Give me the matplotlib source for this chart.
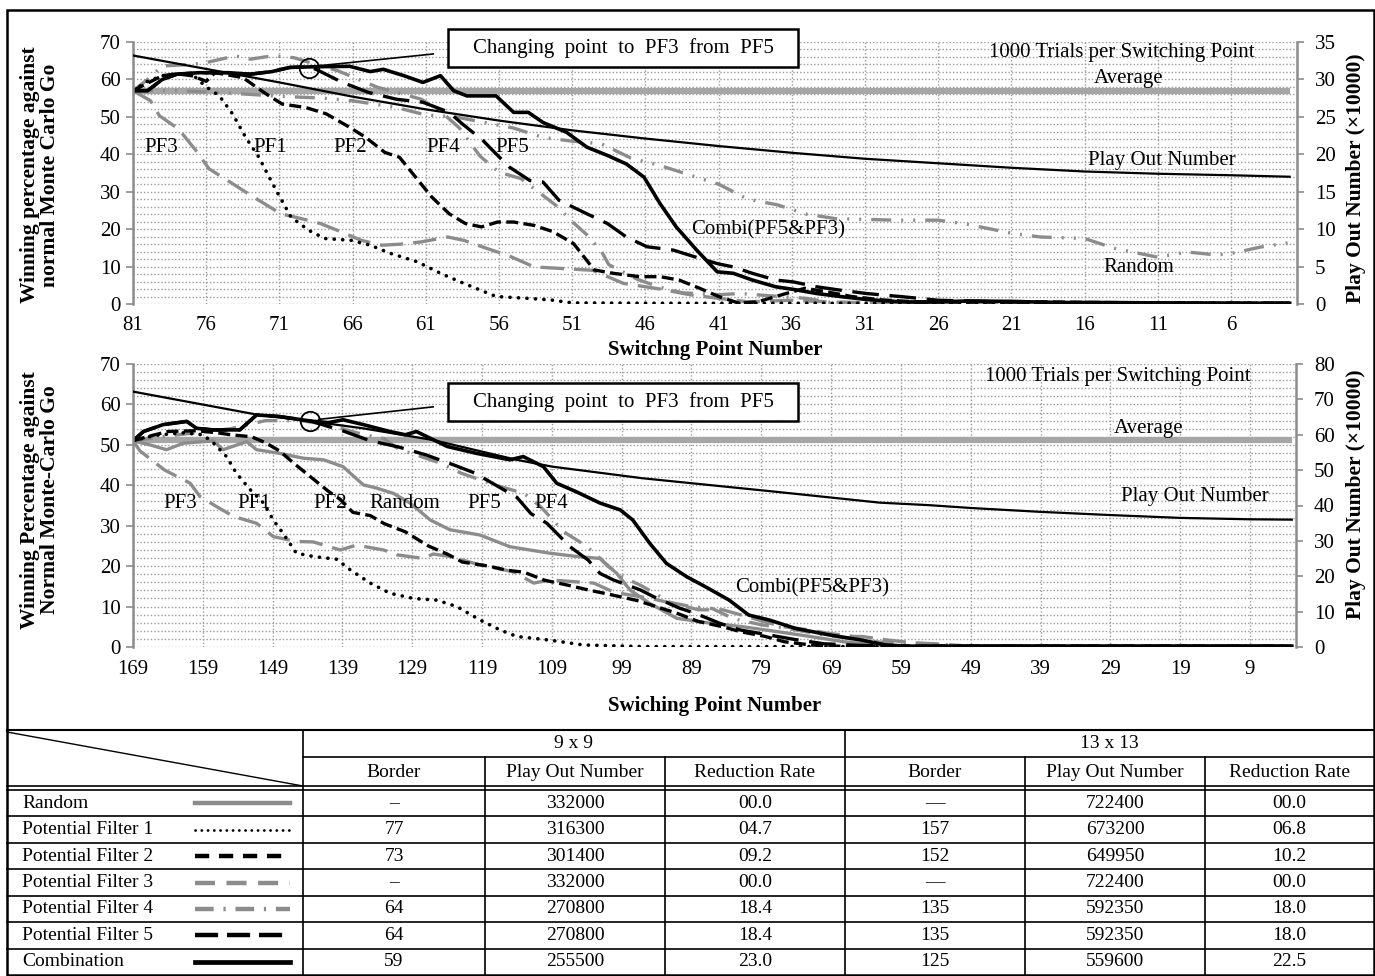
import matplotlib
matplotlib.use('Agg')
import matplotlib.pyplot as plt
from matplotlib.lines import Line2D
from matplotlib.patches import Rectangle
from matplotlib.ticker import MultipleLocator

plt.rcParams['font.family'] = ['Liberation Serif', 'DejaVu Serif']

W, H = 1375, 976
fig = plt.figure(figsize=(W / 100, H / 100), dpi=100)


def fx(x):
    return x / W


def fy(y):
    return 1 - y / H


# ------------------------------------------------------------------ data 9x9
top_avg_x = [81, 2]
top_avg_y = [57.0, 57.0]

top_playout_x = [81, 76, 71, 66, 61, 56, 51, 46, 41, 36, 31, 26, 21, 16, 11, 6, 2]
top_playout_y = [33.2, 31.4, 29.6, 27.7, 26.0, 24.5, 23.2, 22.1, 21.1, 20.2, 19.4,
                 18.8, 18.2, 17.7, 17.4, 17.2, 17.0]

top_combi_x = [81, 80, 79, 78, 76.5, 74.5, 73, 71.5, 70.3, 68.5, 66.2, 64.8, 63.9, 62.5,
               61.2, 60, 59.1, 58.2, 56.2, 55, 54, 53, 51.4, 50, 48.6, 47.3, 46.1, 45,
               43.9, 42.5, 41.1, 40, 38.7, 37.1, 35.9, 34.3, 32.7, 30.9, 28.6, 27, 24,
               21, 18, 15, 11, 7, 2]
top_combi_y = [57, 57, 60, 61.4, 61.8, 61.8, 61.4, 62.1, 63.2, 63.4, 63.5, 62.1, 62.7, 61,
               59.2, 61, 57, 55.6, 55.6, 51.2, 51.2, 48.5, 45.9, 41.9, 39.7, 37.4, 33.9,
               26.8, 20.6, 14.4, 8.6, 8.2, 6.4, 4.6, 3.9, 2.8, 2.0, 1.2, 0.6, 0.5, 0.8,
               0.7, 0.4, 0.4, 0.3, 0.2, 0.2]

top_pf5_x = [81, 80, 79, 78, 76.5, 74.5, 73, 71.5, 70.3, 69, 68.5, 66.7, 64.9, 63, 61.2,
             59.4, 58.5, 57.1, 56.2, 55.3, 53.9, 53, 51.9, 50, 48.6, 47.3, 45.9, 44.1,
             42.3, 41.1, 40, 38.7, 37.1, 35.9, 34.3, 32.7, 30.9, 28.6, 26, 22, 18, 14,
             10, 6, 2]
top_pf5_y = [57, 57, 60, 61.4, 61.8, 61.8, 61.4, 62.1, 63.2, 63.4, 62.7, 59.2, 56.5, 54.7,
             53.9, 51.2, 48.1, 43.7, 40.1, 36.6, 33.0, 32.6, 27.7, 24.1, 21.5, 17.9,
             15.3, 14.4, 12.2, 10.8, 9.9, 8.2, 6.4, 5.9, 4.6, 3.7, 2.8, 2.0, 1.0, 0.6,
             0.4, 0.3, 0.2, 0.2, 0.2]

top_pf1_x = [81, 80, 79, 78, 77, 76, 75.1, 74.2, 73.3, 72.4, 71.7, 71.1, 70.2, 69, 67.9,
             66.1, 64.8, 63.4, 61.6, 60, 58.4, 56.2, 54, 52.5, 51, 45, 35, 25, 15, 2]
top_pf1_y = [57, 59.5, 61, 61.5, 61.5, 58, 55.6, 50.8, 44.5, 39.2, 33.9, 29.5, 23.2, 19.7,
             17.5, 17.0, 15.7, 13.5, 11.3, 8.2, 5.5, 2.0, 1.5, 1.1, 0.3, 0.2, 0.2, 0.2,
             0.2, 0.2]

top_pf2_x = [81, 80, 79, 78, 77, 76, 75.4, 73.5, 71.9, 70.8, 69.2, 67.8, 66.2, 65.1, 63.8,
             62.8, 61.7, 60.6, 59.4, 58.3, 57.2, 56.1, 55, 53.6, 52.3, 50.9, 49.5, 48.2,
             46.4, 45, 43.7, 42.3, 41, 39.6, 38.3, 36.4, 35.1, 33.7, 31.9, 29.9, 27.6,
             24, 20, 15, 10, 5, 2]
top_pf2_y = [57, 59, 61, 61.5, 61, 59.5, 61.8, 60.5, 56.1, 53.4, 52.5, 50.8, 47.2, 44.5,
             40.5, 39.2, 33.9, 28.6, 24.1, 21.5, 20.6, 21.9, 21.9, 21.0, 19.3, 16.1, 9.1,
             8.2, 7.3, 7.3, 6.4, 4.2, 2.0, 0.2, 0.6, 2.8, 4.2, 3.3, 2.0, 1.1, 0.6, 0.5,
             0.6, 0.4, 0.3, 0.2, 0.2]

top_pf3_x = [81, 79.8, 79.2, 77.9, 76.7, 75.8, 74.9, 73.3, 72.4, 70.9, 69.5, 68.2, 66.8,
             65.4, 64, 62.7, 61.3, 59.5, 58.4, 56.8, 55.4, 53.6, 51.8, 49.6, 47.5, 45, 43,
             41, 39, 36, 33, 30, 2]
top_pf3_y = [57, 54.3, 50.3, 46.8, 41, 36.1, 33.9, 29.9, 27.7, 24.1, 22.8, 21.5, 19.3,
             17.0, 15.7, 16.0, 16.6, 17.9, 17.0, 14.8, 13.0, 9.9, 9.5, 9.0, 5.5, 4.0, 2.5,
             1.5, 0.6, 1.0, 0.5, 0.2, 0.2]

top_pf4_x = [81, 80, 79, 77, 76, 74, 73, 71.5, 70, 68.5, 67, 64.3, 62.5, 61.3, 60, 58.7,
             57.3, 56, 54.5, 53, 52, 51, 50, 49, 48.5, 46.5, 45, 43.5, 41, 39.5, 37.5, 35,
             33.5, 30, 2]
top_pf4_y = [57, 60, 63.6, 64, 64.5, 66.3, 65.4, 66.3, 65.8, 64, 62.3, 57.9, 56, 54.7,
             51.5, 47, 39.5, 35.2, 33.5, 29, 26, 22, 18.5, 14, 10.5, 6.5, 4.5, 3, 2.5,
             2.8, 2.2, 1.5, 0.5, 0.3, 0.2]

top_random_x = [81, 78, 75, 71, 68, 66, 63, 61, 59, 57, 55, 53, 51, 49, 47, 45, 43, 41,
                39, 37, 35, 33, 31, 29, 26, 24, 21, 19, 16, 14, 11, 9, 7, 6, 4, 2]
top_random_y = [57, 57, 56.5, 55.5, 55, 54.3, 52.5, 50.5, 50, 48.5, 47, 44.5, 43.5, 42.8,
                39, 37, 34.5, 32, 28, 26.5, 24, 22.8, 22.6, 22.4, 22.4, 21.3, 18.9, 17.9,
                17.5, 14.9, 12.5, 13.9, 13.1, 13.5, 15.2, 16.4]

# ---------------------------------------------------------------- data 13x13
bot_avg_x = [169, 3]
bot_avg_y = [51.2, 51.2]

bot_playout_x = [169, 160, 151, 145, 136, 126, 114, 109, 96, 77, 62, 55, 49, 39, 29, 19, 9, 3]
bot_playout_y = [72.2, 68.9, 65.6, 64.2, 61.8, 58.5, 52.9, 51.0, 47.7, 43.9, 40.8, 40.1,
                 39.3, 38.2, 37.3, 36.5, 36.1, 36.0]

bot_combi_x = [169, 167.5, 164.7, 161.3, 159.9, 157.5, 153.7, 151.3, 148, 146, 143.6, 141,
               138.9, 136, 132.2, 130, 128.4, 124, 119.8, 115, 113.1, 110.2, 108.3, 105.5,
               102.1, 99.2, 97.4, 95, 92.6, 89.7, 87, 83.6, 80.8, 77.9, 74.1, 69.3, 64.6,
               61.2, 58, 50, 40, 30, 20, 10, 3]
bot_combi_y = [51, 53.3, 55, 55.8, 54.1, 53.7, 53.7, 57.4, 57, 56.5, 55.9, 55.5, 56.2, 55,
               53.3, 52.5, 53.3, 49.6, 47.9, 46.3, 47.1, 44.6, 40.5, 38.4, 35.6, 33.9,
               31.4, 25.7, 20.7, 17.4, 14.9, 11.6, 7.9, 6.7, 4.6, 3.0, 1.7, 0.5, 0.2, 0.2,
               0.2, 0.2, 0.2, 0.2, 0.2]

bot_pf5_x = [169, 167.5, 164.7, 161.3, 159.9, 157.5, 153.7, 151.3, 148, 146, 143.6, 139,
             135, 131, 127, 123, 120, 117, 114, 112, 109.7, 106.4, 103.8, 102.1, 100.2,
             96.3, 94.5, 90.7, 88.4, 85, 82, 78, 74, 70, 65, 60, 50, 30, 3]
bot_pf5_y = [51, 53.3, 55, 55.8, 54.1, 53.7, 53.7, 57.4, 57, 56.5, 55.9, 53.5, 51, 49.5,
             47.5, 45, 43, 40, 37, 33, 30.6, 24.8, 21.5, 18.2, 16.6, 14.1, 12.5, 9.6, 8.3,
             5.9, 4.2, 3.0, 1.8, 0.8, 0.4, 0.2, 0.2, 0.2, 0.2]

bot_pf1_x = [169, 166, 162, 159, 157.5, 155.6, 154.2, 152.2, 150.3, 148.9, 147.5, 145.6,
             143.2, 139.8, 137.9, 135, 132.2, 128.8, 125.5, 122.6, 119.3, 116.4, 114,
             109.3, 104.5, 96, 80, 50, 20, 3]
bot_pf1_y = [51, 52.3, 53, 52.5, 50.5, 47.1, 43, 38.9, 35.6, 31.4, 28.1, 23.2, 22.4, 21.7,
             19.1, 15.8, 13.3, 12.0, 11.6, 10.0, 6.7, 4.2, 2.6, 1.7, 0.5, 0.1, 0.1, 0.1,
             0.1, 0.1]

bot_pf2_x = [169, 167, 164, 160, 157, 155, 152, 150, 148, 146, 143.5, 141, 139.3, 137.5,
             135, 133, 130, 126.7, 124, 121.8, 118, 115.5, 113, 110, 107, 103.5, 100.7,
             96.8, 94.8, 91, 88, 84.5, 82, 78.4, 75.7, 71.9, 68, 60, 40, 20, 3]
bot_pf2_y = [51, 52, 53.3, 53.5, 53, 52.5, 52, 50.5, 48.5, 45.5, 42, 38.5, 36.5, 33.3,
             32.5, 30.5, 28.5, 25, 23, 21, 20, 19, 18.5, 16.5, 15.4, 14, 13, 11.5, 10.4,
             8.3, 6.3, 5.0, 3.8, 2.6, 1.3, 0.5, 0.2, 0.2, 0.2, 0.2, 0.2]

bot_pf3_x = [169, 168, 164.5, 160.8, 159.4, 157, 154.6, 151.3, 148.9, 145.6, 143.2, 139.3,
             137, 133.1, 131.2, 127.4, 126, 123.6, 119.3, 114.5, 111.6, 109.3, 103, 100,
             96.5, 94.8, 90.7, 88, 84.5, 81, 78, 75.7, 72, 69.5, 65.7, 64.6, 60.8, 57, 54,
             50, 3]
bot_pf3_y = [51, 48.5, 43.8, 40.5, 37.2, 34.7, 32.3, 30.6, 27.3, 26.1, 26, 24, 25.2, 24,
             22.8, 21.9, 23, 22.4, 20.3, 18.6, 15.8, 16.6, 15.8, 13.5, 12.5, 12, 10.4,
             9.2, 9.2, 7.5, 6.0, 5.0, 4.2, 3.4, 2.6, 2.6, 1.7, 1.0, 0.8, 0.3, 0.2]

bot_pf4_x = [169, 165, 160, 155, 150, 145, 141, 137, 133, 131, 125, 122, 117, 113, 110.6,
             107.3, 105, 103, 101, 99, 96, 92, 89, 86, 83, 79, 75, 70, 66, 62, 58, 55, 50, 3]
bot_pf4_y = [51, 52, 53, 54, 56, 56, 55, 53, 51.5, 49, 45.5, 43, 40, 38, 34.7, 28.5, 26,
             23.5, 20, 17.5, 15, 11, 10, 9.5, 7, 5.5, 4.5, 3, 2, 1.2, 1, 0.8, 0.3, 0.2]

bot_random_x = [169, 166.6, 164.2, 161.8, 157.5, 156.1, 152.7, 151.3, 148, 144.6, 141.7,
                138.9, 136, 134.1, 131.7, 129.3, 126.4, 123.6, 119.3, 115, 109.3, 105.5,
                102.1, 99.7, 97.8, 95, 91.1, 86.3, 81.6, 76.7, 72, 67.2, 62.4, 58, 3]
bot_random_y = [51, 50, 48.8, 50.4, 51, 48.8, 50.8, 48.8, 47.9, 46.7, 46.3, 44.6, 40.1,
                39.3, 38, 35.6, 31.4, 29, 27.7, 24.8, 23.2, 22.4, 21.9, 18.2, 14.1, 10.8,
                7.1, 5.9, 5.0, 3.8, 2.6, 1.3, 0.5, 0.2, 0.2]

# changing-point markers (switch from PF5 to PF3)
top_switch = (69.0, 63.1)
bot_switch = (143.6, 55.9)

# -------------------------------------------------------------- table data
row_names = ['Random', 'Potential Filter 1', 'Potential Filter 2', 'Potential Filter 3',
             'Potential Filter 4', 'Potential Filter 5', 'Combination']
border_9 = ['–', '77', '73', '–', '64', '64', '59']
playout_9 = ['332000', '316300', '301400', '332000', '270800', '270800', '255500']
rate_9 = ['00.0', '04.7', '09.2', '00.0', '18.4', '18.4', '23.0']
border_13 = ['—', '157', '152', '—', '135', '135', '125']
playout_13 = ['722400', '673200', '649950', '722400', '592350', '592350', '559600']
rate_13 = ['00.0', '06.8', '10.2', '00.0', '18.0', '18.0', '22.5']
sub_headers = ['Border', 'Play Out Number', 'Reduction Rate']

# ------------------------------------------------------------------ styles
GRAY = '#8c8c8c'
AVGC = '#a6a6a6'
GRID = '#9a9a9a'
LW = 2.4
sty = {
    'combi': dict(color='black', lw=2.6, ls='-'),
    'pf1': dict(color='black', lw=2.6, ls=(0, (0.05, 2.3)), dash_capstyle='round'),
    'pf2': dict(color='black', lw=LW, ls=(0, (3.6, 1.6))),
    'pf3': dict(color=GRAY, lw=LW, ls=(0, (7, 3))),
    'pf4': dict(color=GRAY, lw=LW, ls=(0, (6, 3, 0.6, 3))),
    'pf5': dict(color='black', lw=LW, ls=(0, (8, 3.2))),
    'random_top': dict(color=GRAY, lw=LW, ls=(0, (6, 3, 0.6, 3, 0.6, 3))),
    'random_bot': dict(color=GRAY, lw=LW, ls='-'),
}

FS = 15


def setup(ax, xlim, xticks, yright_max, yright_step):
    ax.set_xlim(*xlim)
    ax.set_ylim(0, 70)
    ax.set_xticks(xticks)
    ax.set_xticklabels([str(t) for t in xticks], fontsize=FS)
    ax.set_yticks(range(0, 71, 10))
    ax.set_yticklabels([str(t) for t in range(0, 71, 10)], fontsize=FS)
    ax.yaxis.set_minor_locator(MultipleLocator(2))
    ax.set_axisbelow(True)
    ax.grid(axis='x', which='major', ls=(0, (1, 1.5)), color=GRID, lw=1.0)
    ax.grid(axis='y', which='both', ls=(0, (1, 1.5)), color=GRID, lw=1.0)
    ax.tick_params(axis='x', length=0, pad=9)
    ax.tick_params(axis='y', which='major', length=5, width=1.2, color=GRAY, pad=4)
    ax.tick_params(axis='y', which='minor', length=0)
    for s in ['top', 'bottom', 'right']:
        ax.spines[s].set_visible(False)
    ax.spines['left'].set_color(GRAY)
    ax.spines['left'].set_linewidth(1.8)
    axr = ax.twinx()
    axr.set_ylim(0, yright_max)
    ticks = list(range(0, yright_max + 1, yright_step))
    axr.set_yticks(ticks)
    axr.set_yticklabels([str(t) for t in ticks], fontsize=FS)
    axr.tick_params(axis='y', length=5, width=1.2, color=GRAY, pad=8)
    for s in ['top', 'bottom', 'left']:
        axr.spines[s].set_visible(False)
    axr.spines['right'].set_color(GRAY)
    axr.spines['right'].set_linewidth(1.8)
    return axr


# ------------------------------------------------------------- top chart
ax1 = fig.add_axes([fx(133), fy(304), fx(1297 - 133), (304 - 42) / H])
ax1r = setup(ax1, (81, 1.5), list(range(81, 1, -5)), 35, 5)
ax1.plot(top_avg_x, top_avg_y, color=AVGC, lw=4.5, solid_capstyle='butt')
ax1.plot(top_random_x, top_random_y, **sty['random_top'])
ax1.plot(top_pf4_x, top_pf4_y, **sty['pf4'])
ax1.plot(top_pf3_x, top_pf3_y, **sty['pf3'])
ax1.plot(top_pf1_x, top_pf1_y, **sty['pf1'])
ax1.plot(top_pf2_x, top_pf2_y, **sty['pf2'])
ax1.plot(top_pf5_x, top_pf5_y, **sty['pf5'])
ax1.plot(top_combi_x, top_combi_y, **sty['combi'])
ax1r.plot(top_playout_x, top_playout_y, color='black', lw=1.6)
ax1.plot([top_switch[0]], [top_switch[1]], marker='o', ms=14, mfc='none', mec='black', mew=1.3)
ax1.plot([top_switch[0] - 0.6, 60.5], [top_switch[1] + 0.5, 66.8], color='black', lw=1.2)

# ---------------------------------------------------------- bottom chart
ax2 = fig.add_axes([fx(133), fy(647), fx(1296 - 133), (647 - 364) / H])
ax2r = setup(ax2, (169, 2.4), list(range(169, 0, -10)), 80, 10)
ax2.plot(bot_avg_x, bot_avg_y, color=AVGC, lw=4.5, solid_capstyle='butt')
ax2.plot(bot_random_x, bot_random_y, **sty['random_bot'])
ax2.plot(bot_pf4_x, bot_pf4_y, **sty['pf4'])
ax2.plot(bot_pf3_x, bot_pf3_y, **sty['pf3'])
ax2.plot(bot_pf1_x, bot_pf1_y, **sty['pf1'])
ax2.plot(bot_pf2_x, bot_pf2_y, **sty['pf2'])
ax2.plot(bot_pf5_x, bot_pf5_y, **sty['pf5'])
ax2.plot(bot_combi_x, bot_combi_y, **sty['combi'])
ax2r.plot(bot_playout_x, bot_playout_y, color='black', lw=1.6)
ax2.plot([bot_switch[0]], [bot_switch[1]], marker='o', ms=14, mfc='none', mec='black', mew=1.3)
ax2.plot([bot_switch[0] - 1.2, 126], [bot_switch[1] + 0.4, 59.4], color='black', lw=1.2)


# ------------------------------------------------------------ text helpers
def T(x, y, s, **kw):
    kw.setdefault('fontsize', FS)
    kw.setdefault('ha', 'center')
    kw.setdefault('va', 'center')
    fig.text(fx(x), fy(y), s, **kw)


def box(x0, y0, x1, y1, text):
    fig.add_artist(Rectangle((fx(x0), fy(y1)), fx(x1 - x0), (y1 - y0) / H,
                             transform=fig.transFigure, facecolor='white',
                             edgecolor='black', lw=1.8, zorder=10))
    t = fig.text(fx((x0 + x1) / 2), fy((y0 + y1) / 2), text, fontsize=FS,
                 ha='center', va='center', zorder=11)


box(448, 29, 798, 67, 'Changing  point  to  PF3  from  PF5')
box(448, 383, 798, 421, 'Changing  point  to  PF3  from  PF5')

# top chart labels
T(1122, 52, '1000 Trials per Switching Point')
T(1129, 78, 'Average')
T(1162, 161, 'Play Out Number')
T(1139, 268, 'Random')
T(768, 230, 'Combi(PF5&PF3)')
for lab, x in [('PF3', 161), ('PF1', 270), ('PF2', 350), ('PF4', 443), ('PF5', 512)]:
    T(x, 147, lab)
T(715, 350, 'Switchng Point Number', fontweight='bold')
T(40, 175, 'Winning percentage against\nnormal Monte Carlo Go', rotation=90,
  fontweight='bold', fontsize=15.5, linespacing=1.05)
T(1356, 178, 'Play Out Number (×10000)', rotation=90, fontweight='bold', fontsize=15.5)

# bottom chart labels
T(1118, 377, '1000 Trials per Switching Point')
T(1149, 429, 'Average')
T(1195, 497, 'Play Out Number')
T(812, 588, 'Combi(PF5&PF3)')
for lab, x in [('PF3', 180), ('PF1', 254), ('PF2', 330), ('Random', 405), ('PF5', 484),
               ('PF4', 551)]:
    T(x, 503, lab)
T(715, 706, 'Swiching Point Number', fontweight='bold')
T(40, 500, 'Winning Percentage against\nNormal Monte-Carlo Go', rotation=90,
  fontweight='bold', fontsize=15.5, linespacing=1.05)
T(1356, 494, 'Play Out Number (×10000)', rotation=90, fontweight='bold', fontsize=15.5)


# ------------------------------------------------------------------ table
def L(x0, y0, x1, y1, lw=1.5, **kw):
    fig.add_artist(Line2D([fx(x0), fx(x1)], [fy(y0), fy(y1)], transform=fig.transFigure,
                          color=kw.pop('color', 'black'), lw=lw, **kw))


cols = [7, 303, 485, 665, 845, 1025, 1205, 1374]
t_top, t_mid, t_hd1, t_hd2, t_bot = 730, 757, 786, 790, 975
row_h = (t_bot - t_hd2) / len(row_names)

L(7, t_top, 1374, t_top)
L(303, t_mid, 1374, t_mid, lw=1.2)
L(7, t_hd1, 1374, t_hd1, lw=1.2)
L(7, t_hd2, 1374, t_hd2, lw=1.2)
for i in range(1, len(row_names)):
    L(7, t_hd2 + i * row_h, 1374, t_hd2 + i * row_h, lw=1.2)
for c in [303, 845]:
    L(c, t_top, c, t_bot, lw=1.2)
for c in [485, 665, 1025, 1205]:
    L(c, t_mid, c, t_bot, lw=1.2)
L(7, t_top + 2, 303, t_hd1, lw=1.0)

TFS = 14
T((303 + 845) / 2, (t_top + t_mid) / 2, '9 x 9', fontsize=TFS)
T((845 + 1374) / 2, (t_top + t_mid) / 2, '13 x 13', fontsize=TFS)
for k, h in enumerate(sub_headers + sub_headers):
    T((cols[k + 1] + cols[k + 2]) / 2, (t_mid + t_hd1) / 2 + 1, h, fontsize=TFS)

sample_styles = [
    dict(color=GRAY, lw=3.2, ls='-'),
    dict(color='black', lw=2.0, ls=(0, (0.05, 2.2)), dash_capstyle='round'),
    dict(color='black', lw=3.2, ls=(0, (3.2, 2.2))),
    dict(color=GRAY, lw=3.2, ls=(0, (4.5, 2.6))),
    dict(color=GRAY, lw=3.2, ls=(0, (4.2, 2.2, 0.5, 2.2))),
    dict(color='black', lw=3.2, ls=(0, (5.2, 2.0))),
    dict(color='black', lw=3.4, ls='-'),
]
cells = list(zip(border_9, playout_9, rate_9, border_13, playout_13, rate_13))
for i, name in enumerate(row_names):
    yc = t_hd2 + (i + 0.5) * row_h
    T(22, yc, name, fontsize=TFS, ha='left')
    L(195, yc, 290, yc, **sample_styles[i])
    for k, val in enumerate(cells[i]):
        T((cols[k + 1] + cols[k + 2]) / 2, yc, val, fontsize=TFS)

# outer frame
fig.add_artist(Rectangle((fx(7), fy(975)), fx(1374 - 7), (975 - 10) / H,
                         transform=fig.transFigure, fill=False, edgecolor='black', lw=1.8,
                         zorder=12))

fig.savefig('out.png', dpi=100)
